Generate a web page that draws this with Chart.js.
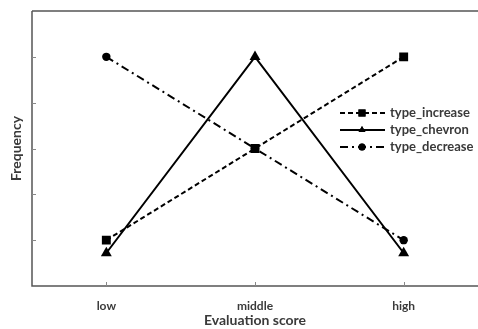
<!DOCTYPE html>
<html>
<head>
<meta charset="utf-8">
<script src="https://cdn.jsdelivr.net/npm/chart.js@4"></script>
<style>
  html, body { margin: 0; padding: 0; background: #fff; }
  #wrap { width: 478px; height: 329px; }
</style>
</head>
<body>
<div id="wrap"><canvas id="chart" width="478" height="329"></canvas></div>
<script>
const categories = ['low', 'middle', 'high'];
const typeIncrease = [1, 3, 5];
const typeChevron = [0.72, 5, 0.72];
const typeDecrease = [5, 3, 1];
const yTicks = [1, 2, 3, 4, 5];

const axisColor = '#555555';
const textColor = '#3a3a3a';

const seriesStyles = [
    { label: 'type_increase', data: typeIncrease, dash: [5, 3], point: 'rect', radius: 6.3, legendRadius: 5 },
    { label: 'type_chevron', data: typeChevron, dash: [], point: 'triangle', radius: 6.3, legendRadius: 4 },
    { label: 'type_decrease', data: typeDecrease, dash: [8, 4, 2, 4], point: 'circle', radius: 4.2, legendRadius: 3.5 }
];

// axes: left, bottom and top lines with inward ticks
const framePlugin = {
    id: 'frame',
    afterDraw(chart) {
        const ctx = chart.ctx;
        const area = chart.chartArea;
        const xScale = chart.scales.x;
        const yScale = chart.scales.y;
        ctx.save();
        ctx.strokeStyle = axisColor;
        ctx.lineWidth = 1.5;
        ctx.beginPath();
        ctx.moveTo(area.left, area.top);
        ctx.lineTo(chart.width, area.top);
        ctx.moveTo(area.left, area.top);
        ctx.lineTo(area.left, area.bottom);
        ctx.lineTo(chart.width, area.bottom);
        ctx.stroke();
        ctx.lineWidth = 1;
        ctx.strokeStyle = '#888888';
        ctx.beginPath();
        yTicks.forEach(v => {
            const y = Math.round(yScale.getPixelForValue(v)) + 0.5;
            ctx.moveTo(area.left, y);
            ctx.lineTo(area.left + 4, y);
        });
        categories.forEach((c, i) => {
            const x = Math.round(xScale.getPixelForValue(i)) + 0.5;
            ctx.moveTo(x, area.bottom);
            ctx.lineTo(x, area.bottom - 4);
        });
        ctx.stroke();
        ctx.restore();
    }
};

// legend with line styles
const legendPlugin = {
    id: 'styledLegend',
    afterDraw(chart) {
        const ctx = chart.ctx;
        const x0 = 340, x1 = 385, rowY = [113, 130, 147];
        ctx.save();
        chart.data.datasets.forEach((ds, i) => {
            const s = seriesStyles[i];
            const y = rowY[i];
            ctx.strokeStyle = '#000';
            ctx.lineWidth = 2;
            ctx.setLineDash(s.dash);
            ctx.beginPath();
            ctx.moveTo(x0, y);
            ctx.lineTo(x1, y);
            ctx.stroke();
            ctx.setLineDash([]);
            ctx.fillStyle = '#000';
            Chart.helpers.drawPoint(ctx, { pointStyle: s.point, radius: s.legendRadius, borderWidth: 0 }, 362, y);
            ctx.fill();
            ctx.fillStyle = textColor;
            ctx.font = 'bold 13px Lato';
            ctx.textBaseline = 'middle';
            ctx.fillText(ds.label, 390, y);
        });
        ctx.restore();
    }
};

new Chart(document.getElementById('chart'), {
    type: 'line',
    data: {
        labels: categories,
        datasets: seriesStyles.map((s, i) => ({
            label: s.label,
            data: s.data,
            order: i,
            borderColor: '#000',
            backgroundColor: '#000',
            borderWidth: 2,
            borderDash: s.dash,
            pointStyle: s.point,
            pointRadius: s.radius,
            pointHoverRadius: s.radius,
            pointBorderWidth: 0,
            tension: 0
        }))
    },
    options: {
        responsive: false,
        animation: false,
        layout: { autoPadding: false, padding: { top: 11, right: -4, left: 0, bottom: 0 } },
        plugins: { legend: { display: false }, tooltip: { enabled: false } },
        scales: {
            x: {
                offset: true,
                grid: { display: false, drawTicks: false },
                border: { display: false },
                ticks: { color: textColor, font: { family: 'Lato', size: 12, weight: 'bold' }, padding: 13 },
                title: { display: true, text: 'Evaluation score', color: textColor, padding: 0,
                    font: { family: 'Lato', size: 14, weight: 'bold' } },
                afterFit(scale) { scale.height = 43; }
            },
            y: {
                min: 0,
                max: 6,
                grid: { display: false, drawTicks: false },
                border: { display: false },
                ticks: { display: false },
                title: { display: true, text: 'Frequency', color: textColor, padding: { top: 8, bottom: 0 },
                    font: { family: 'Lato', size: 14, weight: 'bold' } },
                afterFit(scale) { scale.width = 32; }
            }
        }
    },
    plugins: [framePlugin, legendPlugin]
});
</script>
</body>
</html>
